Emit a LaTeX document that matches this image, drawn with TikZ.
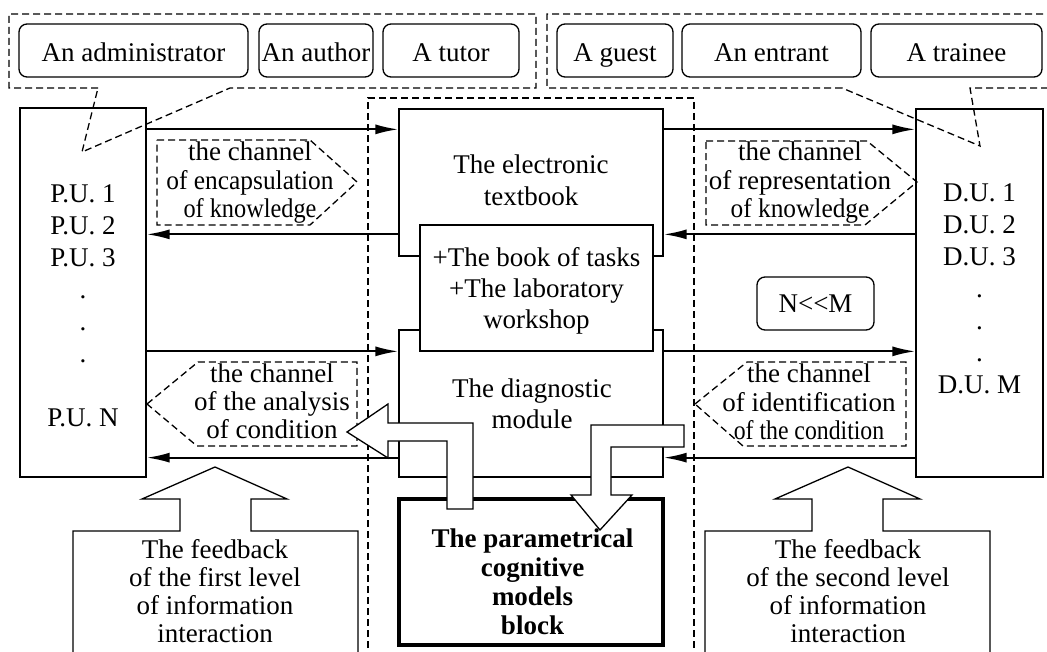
\documentclass[tikz,border=0pt]{standalone}
\usepackage{fontspec}
\usepackage{graphicx}
\setmainfont{Liberation Serif}
\usetikzlibrary{arrows.meta}

\begin{document}
\begin{tikzpicture}[x=1pt,y=-1pt,
  actor/.style={draw, rounded corners=8pt, line width=1.3pt, minimum height=53pt,
    inner sep=0pt, text height=22pt, text depth=0pt, font=\fontsize{27}{31}\selectfont},
  block/.style={draw, line width=1.3pt, inner sep=0pt},
  txt/.style={align=center, inner sep=0pt, font=\fontsize{27}{32}\selectfont},
  ctxt/.style={align=center, inner sep=0pt, font=\fontsize{27}{28.5}\selectfont},
  grp/.style={line width=1.3pt, dash pattern=on 7pt off 4pt},
  flow/.style={line width=2pt, -{Latex[length=23pt,width=10pt]}},
  hollow/.style={draw, fill=white, line width=1.3pt, line join=miter},
]
\useasboundingbox (0,0) rectangle (1047,652);
\clip (0,0) rectangle (1047,652);

% frame of the teaching complex
\draw[grp] (368,670) -- (368,98) -- (694,98) -- (694,670);

% roles
\node[actor, minimum width=229pt] (admin)   at (133.5,50.5) {An administrator};
\node[actor, minimum width=114pt] (author)  at (316,50.5)   {An author};
\node[actor, minimum width=136pt] (tutor)   at (451,50.5)   {A tutor};
\node[actor, minimum width=116pt] (guest)   at (615,50.5)   {A guest};
\node[actor, minimum width=179pt] (entrant) at (771.5,50.5) {An entrant};
\node[actor, minimum width=171pt] (trainee) at (956.5,50.5) {A trainee};

% user blocks
\node[block, minimum width=126pt, minimum height=369pt] (pu) at (83,292.5) {};
\node[block, minimum width=127pt, minimum height=368pt] (du) at (979.5,293) {};
\node[txt] (putext) at (83,305.8) {P.U. 1\\P.U. 2\\P.U. 3\\.\\.\\.\\[32pt]P.U. N};
\node[txt] (dutext) at (979.5,288.8) {D.U. 1\\D.U. 2\\D.U. 3\\.\\.\\.\\D.U. M};

% user groups with their pointers
\draw[grp] (98,88) -- (9,88) -- (9,14) -- (536,14) -- (536,88) -- (230,88) -- (82,152) -- cycle;
\draw[grp] (842,88) -- (547,88) -- (547,14) -- (1060,14) -- (1060,88) -- (970,88) -- (980,146) -- cycle;

% modules of the complex
\node[block, fill=white, minimum width=264pt, minimum height=147pt] (tb) at (531,182.5) {};
\node[block, fill=white, minimum width=264pt, minimum height=147pt] (dg) at (531,403.5) {};
\node[block, fill=white, minimum width=233pt, minimum height=126pt] (tasks) at (536.5,288) {};
\node[txt] (tbtext) at (531,179.8) {The electronic\\textbook};
\node[txt, font=\fontsize{27}{31}\selectfont] (taskstext) at (536.5,290.7)
  {+The book of tasks\\+The laboratory\\workshop};
\node[txt, font=\fontsize{27}{31}\selectfont] (dgtext) at (532,403.3) {The diagnostic\\module};
\node[block, fill=white, line width=3.5pt, minimum width=264pt, minimum height=146pt] (pcm) at (531,572) {};
\node[txt, font=\fontsize{27}{28.7}\selectfont\bfseries] (pcmtext) at (532.5,581.8)
  {The parametrical\\cognitive\\models\\block};

% information flows
\draw[flow] ([yshift=-22pt]pu.north east) -- ([yshift=-21pt]tb.north west);
\draw[flow] ([yshift=-21pt]tb.north east) -- ([yshift=-21pt]du.north west);
\draw[flow] ([yshift=-126pt]du.north west) -- ([yshift=-126pt]tb.north east);
\draw[flow] ([yshift=-126pt]tb.north west) -- ([yshift=-127pt]pu.north east);
\draw[flow] ([yshift=-244pt]pu.north east) -- ([yshift=-22pt]dg.north west);
\draw[flow] ([yshift=-22pt]dg.north east) -- ([yshift=-243pt]du.north west);
\draw[flow] ([yshift=20pt]du.south west) -- ([yshift=20pt]dg.south east);
\draw[flow] ([yshift=20pt]dg.south west) -- ([yshift=20pt]pu.south east);

% channels
\draw[grp] (157,140) -- (310,140) -- (357,182) -- (310,225) -- (157,225) -- cycle;
\draw[grp] (706,141) -- (867,141) -- (917,182) -- (865,225) -- (706,225) -- cycle;
\draw[grp] (147,404) -- (198,362) -- (357,362) -- (357,446) -- (197,446) -- cycle;
\draw[grp] (695,404) -- (747,362) -- (906,362) -- (906,446) -- (743,446) -- cycle;
\node[ctxt] (ch1) at (250,182.7)
  {the channel\\\scalebox{0.94}[1]{of encapsulation}\\\scalebox{0.9}[1]{of knowledge}};
\node[ctxt] (ch2) at (800,183)
  {the channel\\of representation\\\scalebox{0.94}[1]{of knowledge}};
\node[ctxt, font=\fontsize{27}{28}\selectfont] (ch3) at (272,400.8)
  {the channel\\of the analysis\\of condition};
\node[ctxt] (ch4) at (809,402)
  {the channel\\of identification\\\scalebox{0.88}[1]{of the condition}};

\node[actor, minimum width=117pt, text height=19pt] (ratio) at (815.5,303.5) {N<{}<M};

% feedback blocks
\draw[hollow] (73,670) -- (73,531) -- (180,531) -- (180,499) -- (142,499) -- (215,467)
  -- (287,499) -- (251,499) -- (251,531) -- (358,531) -- (358,670);
\draw[hollow] (705,670) -- (705,531) -- (812,531) -- (812,499) -- (775,499) -- (848,467)
  -- (920,499) -- (883,499) -- (883,531) -- (990,531) -- (990,670);
\node[ctxt, font=\fontsize{27}{28}\selectfont] (fb1) at (215,590.8)
  {The feedback\\of the first level\\of information\\interaction};
\node[ctxt, font=\fontsize{27}{28}\selectfont] (fb2) at (848,590.8)
  {The feedback\\of the second level\\of information\\interaction};

% exchange between the diagnostic module and the models block
\draw[hollow] (447,509) -- (447,441) -- (388,441) -- (388,458) -- (347,432) -- (388,404)
  -- (388,423) -- (473,423) -- (473,509) -- cycle;
\draw[hollow] (684,425) -- (591,425) -- (591,495) -- (571,495) -- (600,530) -- (632,495)
  -- (611,495) -- (611,447) -- (684,447) -- cycle;
\end{tikzpicture}
\end{document}
